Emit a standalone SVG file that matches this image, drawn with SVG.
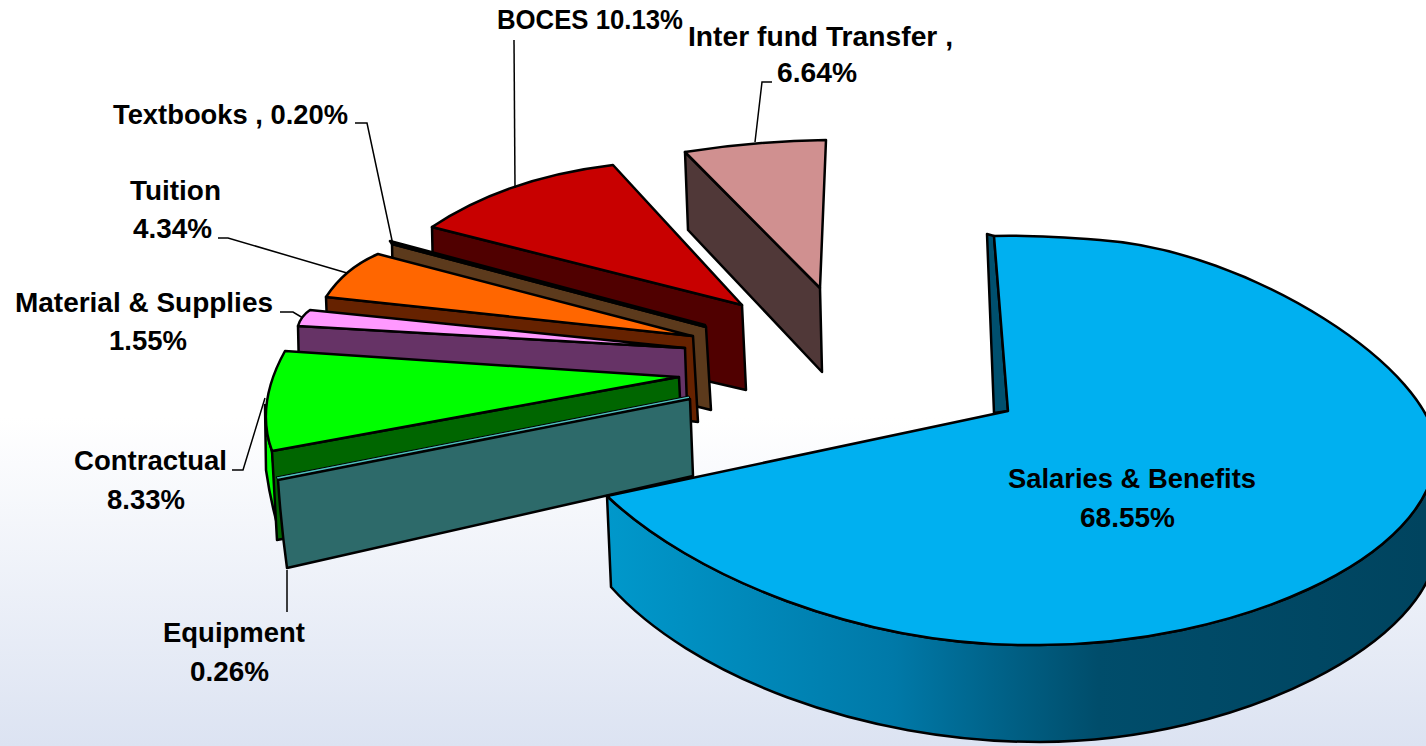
<svg xmlns="http://www.w3.org/2000/svg" width="1426" height="746" viewBox="0 0 1426 746">
<defs>
<linearGradient id="bg" x1="0" y1="0" x2="0" y2="1">
<stop offset="0" stop-color="#FFFFFF"/><stop offset="0.56" stop-color="#FFFFFF"/><stop offset="1" stop-color="#DCE3F2"/>
</linearGradient>
<linearGradient id="blueSide" gradientUnits="userSpaceOnUse" x1="607" y1="0" x2="1426" y2="0">
<stop offset="0" stop-color="#0098CB"/><stop offset="0.35" stop-color="#0079A8"/><stop offset="0.6" stop-color="#004D6B"/><stop offset="1" stop-color="#00445F"/>
</linearGradient>
</defs>
<style>
.f{stroke:#000;stroke-width:2.5;stroke-linejoin:round}
.lbl{font-family:"Liberation Sans",Arial,sans-serif;font-weight:bold;font-size:27px;fill:#000}
.ld{fill:none;stroke:#000;stroke-width:1.5}
</style>
<rect x="0" y="0" width="1426" height="746" fill="url(#bg)"/>

<g id="interfund">
<path class="f" d="M 685,152 L 820,288 L 822,372 L 688,230 Z" fill="#503838"/>
<path class="f" d="M 685,152 Q 755,141 826,140 L 820,288 Z" fill="#D09090"/>
<text class="lbl" x="688" y="46" textLength="265" lengthAdjust="spacingAndGlyphs">Inter fund Transfer ,</text>
<text class="lbl" x="777" y="82" textLength="80" lengthAdjust="spacingAndGlyphs">6.64%</text>
</g>

<g id="boces">
<path class="f" d="M 432,227 L 742,305 L 746,390 L 434,318 Z" fill="#500000"/>
<path class="f" d="M 432,227 Q 505,178 613,165 L 742,305 Z" fill="#C80000"/>
<text class="lbl" x="497" y="29" textLength="186" lengthAdjust="spacingAndGlyphs">BOCES 10.13%</text>
</g>

<g id="textbooks">
<path class="f" d="M 392,244 L 706,327 L 711,410 L 394,331 Z" fill="#5C3A1C"/>
<path class="f" d="M 390,241 L 705,325 L 706,327 L 392,244 Z" fill="#8B5A2B"/>
<text class="lbl" x="113" y="124" textLength="235" lengthAdjust="spacingAndGlyphs">Textbooks , 0.20%</text>
</g>

<g id="tuition">
<path class="f" d="M 326,297 L 693,336 L 698,422 L 329,378 Z" fill="#662200"/>
<path class="f" d="M 378,254 L 692,336 L 326,297 Q 345,268 378,254 Z" fill="#FF6600"/>
<text class="lbl" x="130" y="200" textLength="91" lengthAdjust="spacingAndGlyphs">Tuition</text>
<text class="lbl" x="133" y="238" textLength="79" lengthAdjust="spacingAndGlyphs">4.34%</text>
</g>

<g id="material">
<path class="f" d="M 298,326 L 685,348 L 688,435 L 300,415 Z" fill="#663366"/>
<path class="f" d="M 310,310 L 685,348 L 298,326 Q 301,316 310,310 Z" fill="#FF99FF"/>
<text class="lbl" x="15" y="312" textLength="258" lengthAdjust="spacingAndGlyphs">Material &amp; Supplies</text>
<text class="lbl" x="109" y="350" textLength="78" lengthAdjust="spacingAndGlyphs">1.55%</text>
</g>

<g id="contractual">
<path class="f" d="M 265,405 Q 265,432 272,451 L 281,538 Q 271,505 266,470 Z" fill="#00FF00"/>
<path class="f" d="M 272,451 L 679,377 L 683,462 L 277,540 Z" fill="#006600"/>
<path class="f" d="M 285,351 L 678,377 L 272,451 Q 255,405 285,351 Z" fill="#00FF00"/>
<text class="lbl" x="74" y="470" textLength="153" lengthAdjust="spacingAndGlyphs">Contractual</text>
<text class="lbl" x="107" y="509" textLength="78" lengthAdjust="spacingAndGlyphs">8.33%</text>
</g>

<g id="equipment">
<path d="M 276,477 L 689,396 L 690,399 L 278,480 Z" fill="#4FBFBF" stroke="#000" stroke-width="1"/>
<path class="f" d="M 278,480 L 690,399 L 693,476 L 287,568 Q 281,525 278,480 Z" fill="#2D6A6A"/>
<text class="lbl" x="163" y="642" textLength="142" lengthAdjust="spacingAndGlyphs">Equipment</text>
<text class="lbl" x="190" y="681" textLength="79" lengthAdjust="spacingAndGlyphs">0.26%</text>
</g>

<g id="salaries">
<path class="f" d="M 607,496 C 690,575 860,648 1040,645 C 1230,645 1436,560 1436,450 L 1436,545 C 1436,640 1240,742 1040,742 C 860,742 690,675 611,587 Z" fill="url(#blueSide)"/>
<path class="f" d="M 987,234 L 994,236 L 1008,411 L 994,413 Z" fill="#00506E"/>
<path class="f" d="M 994,236 L 1008,411 L 607,496 C 690,575 860,648 1040,645 C 1230,645 1436,560 1436,450 C 1436,370 1250,250 1100,240 C 1060,237 1020,235 994,236 Z" fill="#00B0F0"/>
<text class="lbl" x="1008" y="488" textLength="248" lengthAdjust="spacingAndGlyphs">Salaries &amp; Benefits</text>
<text class="lbl" x="1080" y="527" textLength="95" lengthAdjust="spacingAndGlyphs">68.55%</text>
</g>

<g id="connectors">
<polyline class="ld" points="514,40 515,188"/>
<polyline class="ld" points="772,82 762,82 755,142"/>
<polyline class="ld" points="355,123 367,123 393,245"/>
<polyline class="ld" points="218,238 228,238 347,273"/>
<polyline class="ld" points="280,312 293,312 303,318"/>
<polyline class="ld" points="232,470 243,470 265,398"/>
<polyline class="ld" points="287,570 287,612"/>
</g>
</svg>
